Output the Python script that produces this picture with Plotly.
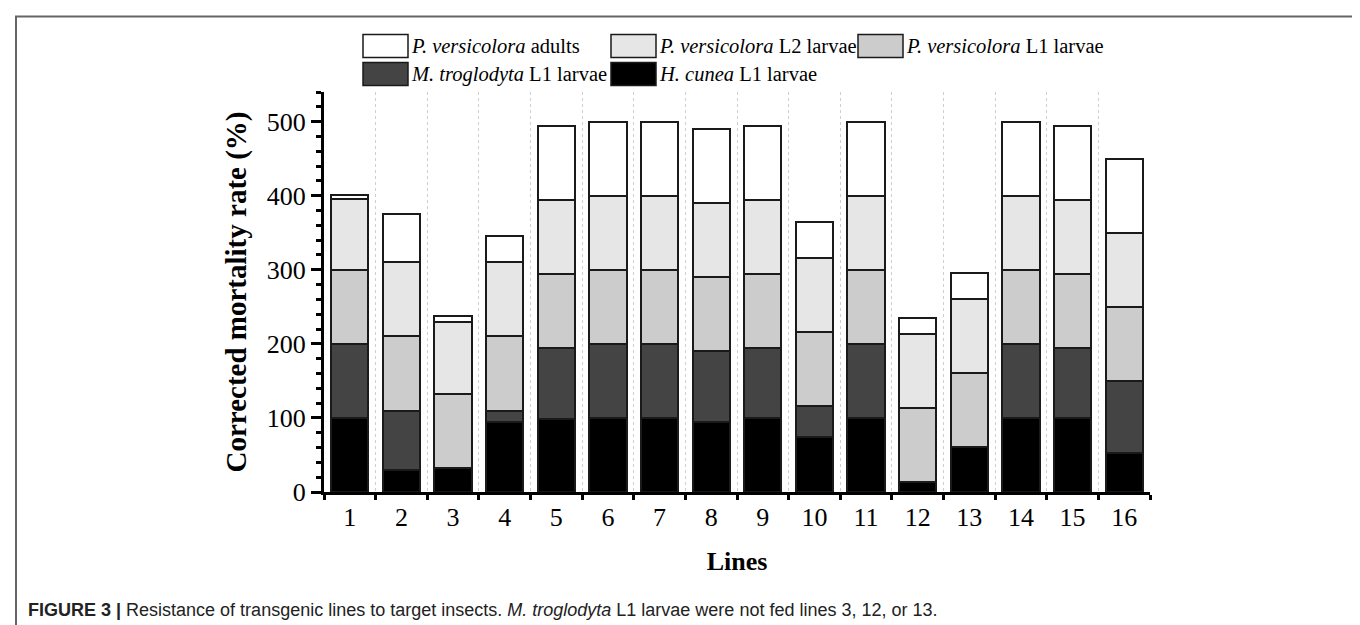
import plotly.graph_objects as go

# ---- data ----
lines = list(range(1, 17))
tick_labels = [str(i) for i in lines]
h_cunea_L1 = [100, 30, 32, 95, 98, 100, 100, 95, 100, 74, 100, 13, 61, 100, 100, 52]
m_troglodyta_L1 = [100, 80, 0, 15, 96, 100, 100, 95, 94, 42, 100, 0, 0, 100, 94, 98]
p_versicolora_L1 = [100, 100, 100, 100, 100, 100, 100, 100, 100, 100, 100, 100, 100, 100, 100, 100]
p_versicolora_L2 = [96, 100, 97, 100, 100, 100, 100, 100, 100, 100, 100, 100, 100, 100, 100, 100]
p_versicolora_adults = [5, 65, 9, 35, 100, 100, 100, 100, 100, 48, 100, 22, 35, 100, 100, 100]

series = [
    ("<i>H. cunea</i> L1 larvae", h_cunea_L1, "#000000"),
    ("<i>M. troglodyta</i> L1 larvae", m_troglodyta_L1, "#444444"),
    ("<i>P. versicolora</i> L1 larvae", p_versicolora_L1, "#cccccc"),
    ("<i>P. versicolora</i> L2 larvae", p_versicolora_L2, "#e6e6e6"),
    ("<i>P. versicolora</i> adults", p_versicolora_adults, "#ffffff"),
]

W, H = 1360, 625
ML, MR, MT, MB = 316, 218, 84, 141
PW, PH = W - ML - MR, H - MT - MB

def px(x):
    return (x - ML) / PW

def py(y):
    return (H - MB - y) / PH

SERIF = "Liberation Serif"

fig = go.Figure()
for name, vals, col in series:
    fig.add_trace(go.Bar(
        x=lines, y=vals, name=name, width=0.72,
        marker=dict(color=col, line=dict(color="#1a1a1a", width=2)),
        showlegend=False,
    ))

# manual legend (large swatches as in the reference)
legend_items = [
    ("<i>P. versicolora</i> adults", "#ffffff", 355, 38),
    ("<i>P. versicolora</i> L2 larvae", "#e6e6e6", 603, 38),
    ("<i>P. versicolora</i> L1 larvae", "#cccccc", 850, 38),
    ("<i>M. troglodyta</i> L1 larvae", "#444444", 355, 66),
    ("<i>H. cunea</i> L1 larvae", "#000000", 603, 66),
]
shapes = []
annotations = []
for text, col, x0, yc in legend_items:
    shapes.append(dict(type="rect", xref="paper", yref="paper",
                       x0=px(x0), x1=px(x0 + 45), y0=py(yc + 11.5), y1=py(yc - 11.5),
                       fillcolor=col, line=dict(color="#1a1a1a", width=1.5)))
    annotations.append(dict(text=text, xref="paper", yref="paper", x=px(x0 + 46), y=py(yc),
                            xanchor="left", yanchor="middle", showarrow=False,
                            font=dict(family=SERIF, size=20.5, color="#000")))

# outer frame
shapes.append(dict(type="rect", xref="paper", yref="paper",
                   x0=px(8), x1=px(1356), y0=py(660), y1=py(8.5),
                   line=dict(color="#666666", width=2), fillcolor="rgba(0,0,0,0)", layer="below"))

# caption
annotations.append(dict(
    text="<b>FIGURE 3 |</b> Resistance of transgenic lines to target insects. <i>M. troglodyta</i> L1 larvae were not fed lines 3, 12, or 13.",
    xref="paper", yref="paper", x=px(18), y=py(602), xanchor="left", yanchor="middle",
    showarrow=False, font=dict(family="Liberation Sans", size=18, color="#222")))

fig.update_layout(
    barmode="stack",
    width=W, height=H,
    margin=dict(l=ML, r=MR, t=MT, b=MB, autoexpand=False),
    paper_bgcolor="white", plot_bgcolor="white",
    font=dict(family=SERIF, color="#000"),
    shapes=shapes, annotations=annotations,
    showlegend=False,
)

boundaries = [i + 0.5 for i in range(0, 17)]
fig.update_xaxes(
    range=[0.5, 16.5],
    tickmode="array", tickvals=lines, ticktext=tick_labels,
    ticks="", ticklabelstandoff=0,
    tickfont=dict(family=SERIF, size=26, color="#000"),
    showline=True, linecolor="#000", linewidth=3,
    showgrid=False, zeroline=False,
    minor=dict(tickmode="array", tickvals=boundaries, ticks="outside", ticklen=5,
               tickwidth=2.5, tickcolor="#000", showgrid=True, gridcolor="#cfcfcf",
               griddash="dot", gridwidth=1),
    title=dict(text="<b>Lines</b>", font=dict(family=SERIF, size=26, color="#000"), standoff=21),
)
fig.update_yaxes(
    range=[0, 540],
    tickmode="array", tickvals=[0, 100, 200, 300, 400, 500],
    ticks="outside", ticklen=10, tickwidth=2.5, tickcolor="#000",
    tickfont=dict(family=SERIF, size=26, color="#000"),
    showline=True, linecolor="#000", linewidth=3,
    showgrid=False, zeroline=False,
    minor=dict(dtick=20, tick0=0, ticks="outside", ticklen=5, tickwidth=2.5, tickcolor="#000",
               showgrid=False),
    title=dict(text="<b>Corrected mortality rate (%)</b>",
               font=dict(family=SERIF, size=29, color="#000"), standoff=12),
)

fig.write_html("out.html")
